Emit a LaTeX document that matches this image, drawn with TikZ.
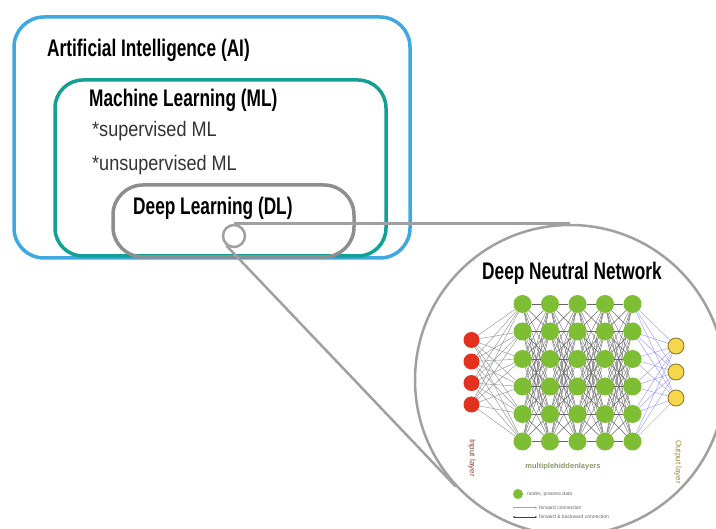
\documentclass[tikz,border=0pt]{standalone}
\usepackage{fontspec}
\setmainfont{Liberation Sans}
\newfontfamily\condfont[FakeStretch=0.72]{Liberation Sans}
\newfontfamily\lightfont[FakeStretch=0.86]{Liberation Sans}
\usetikzlibrary{arrows.meta}
\definecolor{aiblue}{HTML}{3DA9E0}
\definecolor{mlteal}{HTML}{12A095}
\definecolor{dlgray}{HTML}{8E8E8E}
\definecolor{conngray}{HTML}{A0A0A0}
\definecolor{inred}{HTML}{E2321F}
\definecolor{hidgreen}{HTML}{7DBE35}
\definecolor{outyellow}{HTML}{F6D64A}
\definecolor{outedge}{HTML}{8A7228}
\definecolor{inlabel}{HTML}{8B4A35}
\definecolor{outlabel}{HTML}{9C8A3A}
\definecolor{hidlabel}{HTML}{8A9A6A}
\pgfdeclarelayer{bg}
\pgfdeclarelayer{edges}
\pgfsetlayers{bg,edges,main}
\tikzset{
  areabox/.style={draw, line width=3.5pt, inner sep=0pt, rectangle},
  headtext/.style={anchor=base west, inner sep=0pt, font=\condfont\bfseries\fontsize{24}{24}\selectfont},
  subtext/.style={anchor=base west, inner sep=0pt, text=black!80, font=\lightfont\fontsize{21}{21}\selectfont},
  conn/.style={draw=conngray, line width=2.5pt},
  innode/.style={circle, fill=inred, inner sep=0pt, minimum size=16pt},
  hidnode/.style={circle, fill=hidgreen, inner sep=0pt, minimum size=18pt},
  outnode/.style={circle, fill=outyellow, draw=outedge, line width=0.8pt, inner sep=0pt, minimum size=16pt},
  inedge/.style={draw=black!45, line width=0.4pt},
  hidedge/.style={draw=black!60, line width=0.4pt},
  outedgeline/.style={draw=blue!45!white, line width=0.35pt},
  smalltext/.style={inner sep=0pt, text=black!60, font=\fontsize{5}{5.5}\selectfont}
}
\begin{document}
\begin{tikzpicture}[x=1pt,y=-1pt]
\clip (0,0) rectangle (716,529);
\begin{pgfonlayer}{bg}
\fill[white] (0,0) rectangle (716,529);
\end{pgfonlayer}

% nested areas
\node[areabox, draw=aiblue, minimum width=396pt, minimum height=241pt, rounded corners=30pt] (ai) at (212,137.5) {};
\node[areabox, draw=mlteal, minimum width=331pt, minimum height=176pt, rounded corners=28pt] (ml) at (220.5,168) {};
\node[areabox, draw=dlgray, minimum width=241pt, minimum height=72pt, rounded corners=30pt] (dl) at (233.5,221) {};

\node[headtext] (aitext) at (47,57) {Artificial Intelligence (AI)};
\node[headtext] (mltext) at (89,107) {Machine Learning (ML)};
\node[subtext] (sup) at (92,137) {*supervised ML};
\node[subtext] (unsup) at (92,171) {*unsupervised ML};
\node[headtext] (dltext) at (133,215) {Deep Learning (DL)};

% zoom callout
\node[circle, draw=conngray, line width=2.5pt, fill=white, inner sep=0pt, minimum size=22pt] (sc) at (234,236) {};
\node[circle, draw=conngray, line width=2.5pt, inner sep=0pt, minimum size=310pt] (bc) at (570,380) {};
\draw[conn] (sc.north) -- (bc.north);
\draw[conn] (sc.232) -- (bc.223);

\node[headtext] (dnn) at (482,280) {Deep Neutral Network};

% network nodes
\foreach \r/\y in {1/340,2/361.5,3/383,4/404.5}
  \node[innode] (i\r) at (471.5,\y) {};
\foreach \c/\x in {1/522.5,2/550,3/577.5,4/605,5/632.5}
  \foreach \r/\y in {1/304,2/331.5,3/359,4/386.5,5/414,6/441.5}
    \node[hidnode] (h\c\r) at (\x,\y) {};
\foreach \r/\y in {1/346,2/372,3/398}
  \node[outnode] (o\r) at (676,\y) {};

\begin{pgfonlayer}{edges}
\foreach \a in {1,...,4}
  \foreach \b in {1,...,6}
    \draw[inedge] (i\a) -- (h1\b);
\foreach \c/\n in {1/2,2/3,3/4,4/5}
  \foreach \a in {1,...,6}
    \foreach \b in {1,...,6}
      \draw[hidedge] (h\c\a) -- (h\n\b);
\foreach \a in {1,...,6}
  \foreach \b in {1,...,3}
    \draw[outedgeline] (h5\a) -- (o\b);
\end{pgfonlayer}

% labels
\node[inner sep=0pt, rotate=-90, text=inlabel, font=\fontsize{8}{8}\selectfont] (inlab) at (472,458) {Input layer};
\node[inner sep=0pt, rotate=-90, text=outlabel, font=\fontsize{8}{8}\selectfont] (outlab) at (678,462) {Output layer};
\node[inner sep=0pt, text=hidlabel, font=\bfseries\fontsize{7.5}{8}\selectfont] (hidlab) at (563,467) {multiplehiddenlayers};

% legend
\node[circle, fill=hidgreen, inner sep=0pt, minimum size=10pt] (lg) at (518,494) {};
\node[smalltext, anchor=west] (lgtext) at (527,494) {nodes, process data};
\coordinate (fa) at (513,507.5);
\coordinate (fb) at (537,507.5);
\coordinate (ba) at (513,517);
\coordinate (bb) at (537,517);
\draw[draw=black!35, line width=0.5pt, -{Stealth[length=2pt,width=2pt]}] (fa) -- (fb);
\draw[draw=black!75, line width=0.6pt, {Stealth[length=2pt,width=2pt]}-{Stealth[length=2pt,width=2pt]}] (ba) -- (bb);
\node[smalltext, anchor=west] (ftext) at (539,507.5) {forward connection};
\node[smalltext, anchor=west] (btext) at (539,517) {forward \& backward connection};
\end{tikzpicture}
\end{document}
